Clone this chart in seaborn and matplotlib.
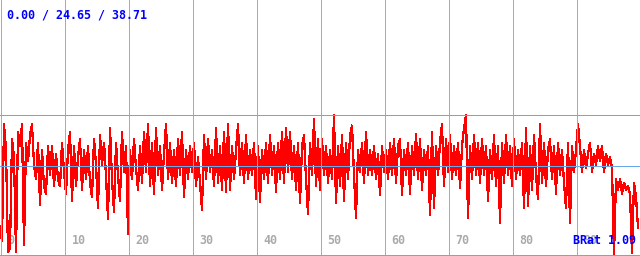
import numpy as np
import pandas as pd
import matplotlib
matplotlib.use("Agg")
import matplotlib.pyplot as plt
import seaborn as sns

# Series values (one value every 2 px ~ 0.3125 x-units)
values = [
    8, 4, 36, 29, 1,      2, 32, 27, 1, 34,     30, 36, 3, 31, 26,    33, 36, 25, 21, 31,
    14, 29, 19, 17, 30,   22, 30, 19, 28, 21,   19, 31, 23, 17, 29,   34, 15, 30, 19, 27,
    32, 18, 29, 21, 30,   20, 16, 32, 25, 13,   33, 25, 31, 22, 10,   35, 21, 12, 31, 22,
    15, 34, 23, 30, 6,    29, 21, 32, 24, 18,   30, 20, 34, 23, 36,   19, 31, 17, 35, 22,
    30, 18, 28, 36, 21,   31, 20, 29, 19, 32,   22, 34, 16, 29, 21,   30, 23, 31, 19, 27,
    20, 12.6, 33, 21, 32, 23, 29, 19, 35, 20,   30, 18, 34, 17.5, 36, 18, 30, 21, 29, 36,
    22, 31, 20, 33, 21,   29, 22, 31, 15.5, 30, 14.8, 29, 21, 31, 20, 33, 22, 30, 17.5, 31,
    21, 34, 20, 35, 23,   34, 21, 30, 18, 31,   14.3, 30, 33, 21, 11.5, 31, 22, 37.5, 19, 32,
    18, 32, 22, 30, 20,   29, 21, 38.5, 14.3, 30, 19, 33, 15, 31, 21,  33, 35.7, 22, 10.4, 29,
    23, 31, 20, 34, 22,   29, 22, 30, 21, 28,   16.5, 30, 23, 29, 21, 31, 22, 32, 20, 30,
    32, 16.5, 29, 22, 31, 17, 30, 22, 33.5, 21, 32, 18, 29, 22, 30,   11, 34, 13, 30, 22,
    31, 36, 19, 32, 23,   33, 21, 30, 22, 31,   18.5, 30, 35, 38.5, 10.2, 30, 21, 33, 22, 31,
    20, 32, 22, 30, 15,   29, 21, 33, 19, 30,   9, 31, 20, 33, 22,     30, 19, 32, 21, 29,
    22, 31, 13, 35, 13.5, 30, 18, 33, 22, 15.5, 36, 20, 31, 19, 29,   32, 21, 30, 17, 31,
    22, 29, 20, 13, 31,   9, 30, 23, 29, 36,    30, 23, 29, 24, 28,   31, 23, 28, 25, 30,
    26, 30, 23, 28, 25,   27, 24, 0.3, 21, 18,  21, 17, 20, 18, 19,   17, 0.8, 20, 16, 7.7,
]
x_step = 100.0 / 320
xs = [i * x_step for i in range(len(values))]

stats = [0.00, 24.65, 38.71]          # min / avg / max
stats_label = "0.00 / 24.65 / 38.71"
tick_labels = ["0", "10", "20", "30", "40", "50", "60", "70", "80", "90"]
tick_positions = [0, 10, 20, 30, 40, 50, 60, 70, 80, 90]
ratio_label = "BRat 1.09"

df = pd.DataFrame({"x": xs, "y": values})

sns.set_theme(style="white")
plt.rcParams["font.family"] = ["DejaVu Sans Mono", "DejaVu Sans"]

fig = plt.figure(figsize=(6.4, 2.56), dpi=100)
ax = fig.add_axes([0, 0, 1, 1])
ax.set_facecolor("white")

# tick labels (under the data)
for p, lab in zip(tick_positions, tick_labels):
    ax.text(p + 1.2, 4.0, lab, color="#aaaaaa", fontsize=8.4, fontweight="bold",
            ha="left", va="center", zorder=1)

sns.lineplot(data=df, x="x", y="y", ax=ax, color="#ff0000", linewidth=0.9,
             estimator=None, zorder=2, legend=False, antialiased=False)

# vertical grid lines (on top of data)
for p in tick_positions:
    ax.axvline(p + 0.08, color="#aaaaaa", linewidth=0.72, zorder=3, antialiased=False)

# horizontal stat lines
for s in stats:
    ax.axhline(s, color="#66aaee", linewidth=0.72, zorder=3, antialiased=False)

ax.text(1.1, 66.1, stats_label, color="#0000ff", fontsize=8.4, fontweight="bold",
        ha="left", va="center", zorder=5)
ax.text(99.4, 4.0, ratio_label, color="#0000ff", fontsize=8.4, fontweight="bold",
        ha="right", va="center", zorder=5)

ax.set_xlim(0, 100)
ax.set_ylim(-0.14, 70.2)
ax.set_xlabel("")
ax.set_ylabel("")
ax.set_xticks([])
ax.set_yticks([])
for sp in ax.spines.values():
    sp.set_visible(False)

fig.savefig("out.png", dpi=100, facecolor="white")
